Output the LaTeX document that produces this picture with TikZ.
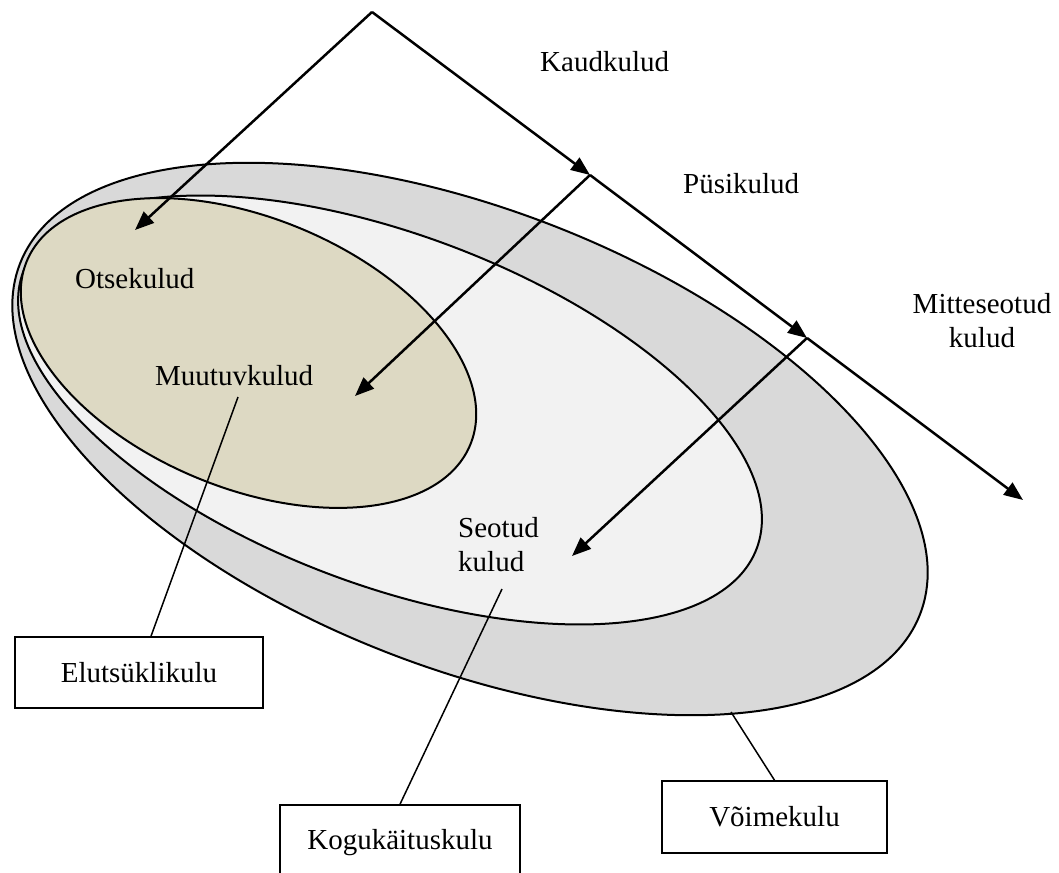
\documentclass[tikz,border=0pt]{standalone}
\usepackage{fontspec}
\setmainfont{Liberation Serif}
\usetikzlibrary{arrows.meta}
\definecolor{ringgray}{HTML}{D9D9D9}
\definecolor{midgray}{HTML}{F2F2F2}
\definecolor{tanfill}{HTML}{DDD9C3}
\begin{document}
\begin{tikzpicture}[x=1pt,y=-1pt,
  ell/.style={draw=black, line width=2pt},
  arr/.style={line width=2.5pt, -{Triangle[length=19pt,width=15pt]}},
  lead/.style={line width=1.5pt},
  lbl/.style={font=\fontsize{29}{34}\selectfont, inner sep=0pt},
  labelbox/.style={draw, line width=1.6pt, fill=white, font=\fontsize{29}{34}\selectfont, inner sep=0pt}]
\useasboundingbox (0,0) rectangle (1059,872);
% ellipses
\draw[ell, fill=ringgray] (470,439) ellipse [x radius=483pt, y radius=229pt, rotate=-21.3];
\draw[ell, fill=midgray] (390,410) ellipse [x radius=392pt, y radius=175pt, rotate=-20.7];
\draw[ell, fill=tanfill] (248.5,353) ellipse [x radius=240pt, y radius=135pt, rotate=-22.5];
% points
\coordinate (A) at (372,12);
\coordinate (P1) at (590,175);
\coordinate (P2) at (807,338);
\coordinate (E) at (1023,500);
\coordinate (T0) at (135,230);
\coordinate (T1) at (355,396);
\coordinate (T2) at (572,556);
% texts
\node[lbl, anchor=base west] (kaud) at (540,72) {Kaudkulud};
\node[lbl, anchor=base west] (pysi) at (683,193) {Püsikulud};
\node[lbl, anchor=north, align=center] (mitte) at (982,293) {Mitteseotud\\kulud};
\node[lbl, anchor=base west] (otse) at (75,288) {Otsekulud};
\node[lbl, anchor=base west] (muutuv) at (155,385) {Muutuvkulud};
\node[lbl, anchor=north west, align=left] (seotud) at (458,517) {Seotud\\kulud};
% arrows
\draw[arr] (A) -- (P1);
\draw[arr] (P1) -- (P2);
\draw[arr] (P2) -- (E);
\draw[arr] (A) -- (T0);
\draw[arr] (P1) -- (T1);
\draw[arr] (P2) -- (T2);
% boxes
\node[labelbox, minimum width=248pt, minimum height=71pt] (elu) at (139,672.5) {Elutsüklikulu};
\node[labelbox, minimum width=240pt, minimum height=76pt] (kogu) at (400,843) {Kogukäituskulu};
\node[labelbox, minimum width=225pt, minimum height=72pt] (voime) at (774.5,817) {Võimekulu};
% leaders
\coordinate (m1) at (238,397);
\coordinate (s1) at (502,589);
\coordinate (v1) at (731,712);
\draw[lead] (m1) -- (elu.north -| 151,0);
\draw[lead] (s1) -- (kogu.north);
\draw[lead] (v1) -- (voime.north);
\end{tikzpicture}
\end{document}
